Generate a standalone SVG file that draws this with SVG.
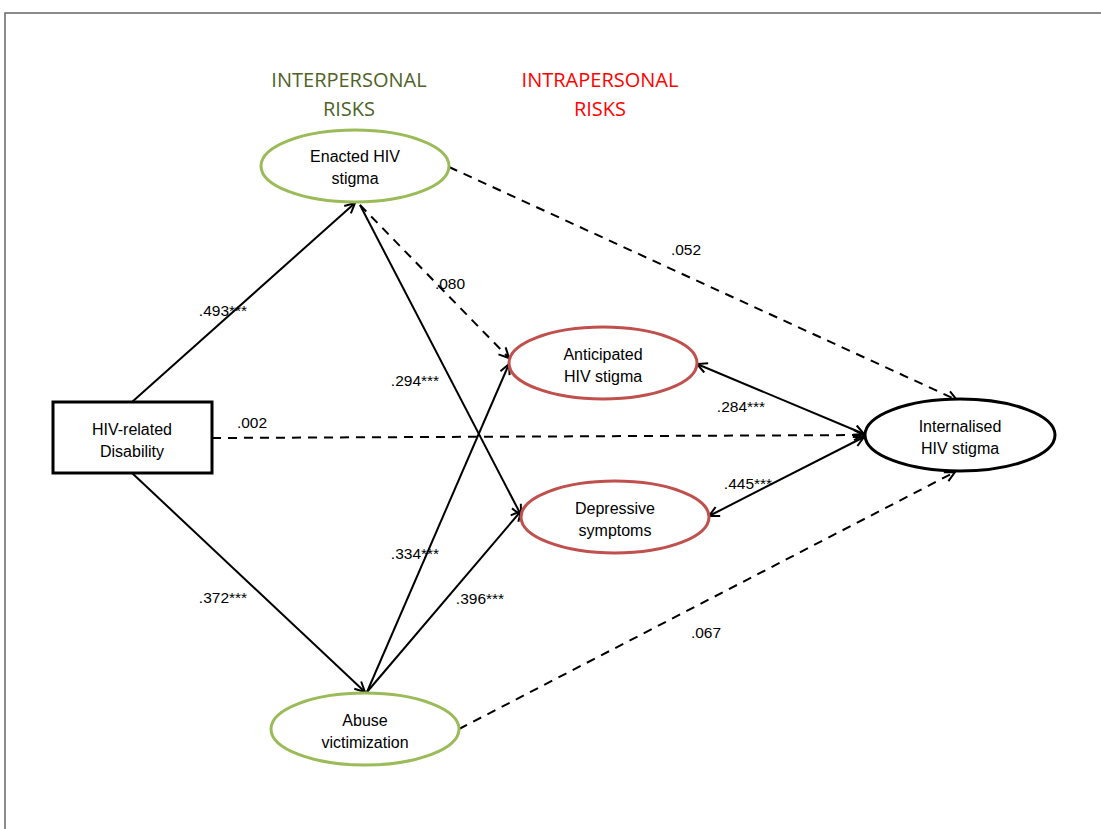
<svg xmlns="http://www.w3.org/2000/svg" width="1101" height="829" viewBox="0 0 1101 829">
<style>
.t{font-family:"Liberation Sans",Arial,sans-serif;font-size:16px;fill:#000;text-anchor:middle}
.lbl{font-family:"Liberation Sans",Arial,sans-serif;font-size:15.5px;fill:#000;text-anchor:middle}
.hd{font-family:"Open Sans","Liberation Sans",sans-serif;font-size:20px;text-anchor:middle}
.c{stroke:#000;stroke-width:2;fill:none}
.d{stroke-dasharray:9,7}
.green{fill:#fff;stroke:#9BBB59;stroke-width:3}
.red{fill:#fff;stroke:#C0504D;stroke-width:3}
</style>
<defs>
<marker id="ah" viewBox="0 0 12 12" refX="11" refY="6" markerWidth="12" markerHeight="12" markerUnits="userSpaceOnUse" orient="auto-start-reverse">
<path d="M1,1 L11,6 L1,11" fill="none" stroke="#000" stroke-width="2"/>
</marker>
</defs>
<rect width="1101" height="829" fill="#fff"/>
<path d="M5,829 V13 H1101" fill="none" stroke="#666" stroke-width="1.5"/>
<g id="headers">
<text class="hd" x="349" y="87" fill="#4F6228">INTERPERSONAL</text>
<text class="hd" x="349" y="116" fill="#4F6228">RISKS</text>
<text class="hd" x="600" y="87" fill="#FF0000">INTRAPERSONAL</text>
<text class="hd" x="600" y="116" fill="#FF0000">RISKS</text>
</g>
<g id="connectors">
<line class="c" x1="132" y1="402" x2="355" y2="203" marker-end="url(#ah)"/>
<line class="c" x1="132" y1="473" x2="365" y2="692" marker-end="url(#ah)"/>
<line class="c d" x1="212" y1="438" x2="864" y2="435" marker-end="url(#ah)"/>
<line class="c d" x1="449" y1="167" x2="957" y2="400" marker-end="url(#ah)"/>
<line class="c d" x1="360" y1="205" x2="509" y2="358" marker-end="url(#ah)"/>
<line class="c" x1="360" y1="205" x2="521" y2="515" marker-end="url(#ah)"/>
<line class="c" x1="367" y1="692" x2="509" y2="364" marker-end="url(#ah)"/>
<line class="c" x1="367" y1="692" x2="521" y2="511" marker-end="url(#ah)"/>
<line class="c" x1="697" y1="364" x2="864" y2="434" marker-start="url(#ah)" marker-end="url(#ah)"/>
<line class="c" x1="709" y1="516" x2="864" y2="437" marker-start="url(#ah)" marker-end="url(#ah)"/>
<line class="c d" x1="459" y1="729" x2="955" y2="472" marker-end="url(#ah)"/>
<text class="lbl" x="223" y="316">.493***</text>
<text class="lbl" x="223" y="603">.372***</text>
<text class="lbl" x="252" y="428">.002</text>
<text class="lbl" x="686" y="255">.052</text>
<text class="lbl" x="450" y="289">.080</text>
<text class="lbl" x="415" y="386">.294***</text>
<text class="lbl" x="415" y="559">.334***</text>
<text class="lbl" x="480" y="604">.396***</text>
<text class="lbl" x="741" y="412">.284***</text>
<text class="lbl" x="748" y="489">.445***</text>
<text class="lbl" x="706" y="638">.067</text>
</g>
<g id="disability">
<rect x="53" y="402" width="159" height="71" fill="#fff" stroke="#000" stroke-width="3"/>
<text class="t" x="132" y="435">HIV-related</text>
<text class="t" x="132" y="457">Disability</text>
</g>
<g id="enacted">
<ellipse class="green" cx="355" cy="166" rx="94" ry="36"/>
<text class="t" x="355" y="162">Enacted HIV</text>
<text class="t" x="355" y="184">stigma</text>
</g>
<g id="abuse">
<ellipse class="green" cx="365" cy="729" rx="94" ry="36"/>
<text class="t" x="365" y="726">Abuse</text>
<text class="t" x="365" y="748">victimization</text>
</g>
<g id="anticipated">
<ellipse class="red" cx="603" cy="363" rx="94" ry="36"/>
<text class="t" x="603" y="360">Anticipated</text>
<text class="t" x="603" y="382">HIV stigma</text>
</g>
<g id="depressive">
<ellipse class="red" cx="615" cy="517" rx="94" ry="36"/>
<text class="t" x="615" y="514">Depressive</text>
<text class="t" x="615" y="536">symptoms</text>
</g>
<g id="internalised">
<ellipse cx="960" cy="435" rx="95" ry="36" fill="#fff" stroke="#000" stroke-width="3"/>
<text class="t" x="960" y="432">Internalised</text>
<text class="t" x="960" y="454">HIV stigma</text>
</g>
</svg>
